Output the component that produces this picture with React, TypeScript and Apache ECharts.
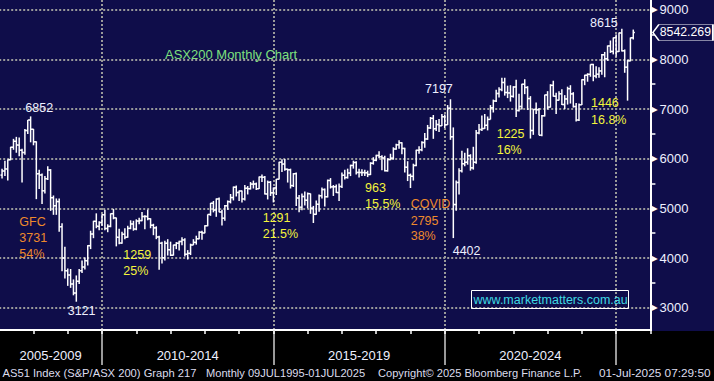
import React, { useEffect, useRef } from "react";
import * as echarts from "echarts";

// Monthly bars, Jan 2007 .. Jun 2025 (ASX200)
const opens = [
  5670, 5755, 5794, 5977, 6231, 6351, 6274, 6171, 6123, 6567, 6779, 6593,
  6340, 5697, 5673, 5355, 5598, 5773, 5215, 5052, 5136, 4631, 4000, 3745,
  3659, 3478, 3296, 3532, 3745, 3818, 3947, 4249, 4484, 4740, 4638, 4715,
  4870, 4596, 4638, 4893, 4808, 4417, 4301, 4480, 4420, 4598, 4686, 4584,
  4745, 4754, 4839, 4838, 4791, 4661, 4608, 4425, 4296, 4008, 4298, 4167,
  4057, 4262, 4299, 4335, 4365, 4077, 4095, 4263, 4316, 4387, 4519, 4506,
  4649, 4878, 5104, 4967, 5191, 4926, 4803, 5052, 5135, 5218, 5426, 5320,
  5352, 5190, 5405, 5395, 5489, 5492, 5396, 5633, 5625, 5292, 5526, 5313,
  5411, 5588, 5929, 5891, 5790, 5777, 5459, 5699, 5207, 5021, 5239, 5166,
  5296, 5005, 4880, 5082, 5252, 5378, 5233, 5562, 5433, 5436, 5318, 5440,
  5666, 5621, 5712, 5864, 5924, 5724, 5721, 5720, 5715, 5682, 5909, 5969,
  6065, 6038, 6016, 5759, 5983, 6011, 6195, 6280, 6320, 6208, 5830, 5667,
  5646, 5865, 6169, 6181, 6325, 6397, 6619, 6813, 6604, 6688, 6663, 6846,
  6684, 7017, 6441, 5077, 5522, 5756, 5898, 5928, 6061, 5816, 5928, 6518,
  6587, 6607, 6673, 6791, 7025, 7162, 7313, 7393, 7535, 7333, 7324, 7256,
  7445, 6971, 7049, 7500, 7435, 7211, 6568, 6993, 6987, 6474, 6863, 7284,
  7039, 7477, 7258, 7178, 7309, 7091, 7203, 7410, 7305, 7049, 6781, 7087,
  7591, 7681, 7699, 7897, 7664, 7702, 7768, 8092, 8011, 8270, 8160, 8436,
  8159, 8532, 8172, 7843, 7970, 8434,
];
const highs = [
  5800, 5960, 5985, 6240, 6400, 6440, 6425, 6200, 6600, 6780, 6852, 6600,
  6350, 5780, 5700, 5650, 5850, 5790, 5260, 5200, 5200, 4700, 4230, 3790,
  3780, 3570, 3650, 3780, 3950, 4010, 4260, 4550, 4750, 4900, 4740, 4880,
  4970, 4680, 4900, 4990, 4815, 4590, 4530, 4600, 4650, 4760, 4750, 4780,
  4810, 4925, 4860, 4975, 4800, 4690, 4640, 4450, 4330, 4350, 4380, 4330,
  4270, 4320, 4350, 4420, 4400, 4160, 4290, 4380, 4450, 4540, 4550, 4660,
  4880, 5110, 5150, 5200, 5220, 4970, 5070, 5160, 5290, 5440, 5460, 5360,
  5360, 5470, 5450, 5530, 5560, 5520, 5640, 5680, 5650, 5560, 5550, 5420,
  5590, 5940, 5990, 5996, 5800, 5800, 5710, 5720, 5270, 5300, 5340, 5320,
  5300, 5050, 5160, 5280, 5420, 5400, 5580, 5610, 5470, 5480, 5500, 5720,
  5780, 5800, 5880, 5960, 5950, 5800, 5790, 5780, 5760, 5930, 6030, 6080,
  6150, 6070, 6060, 6010, 6100, 6230, 6300, 6374, 6330, 6220, 5950, 5700,
  5900, 6180, 6250, 6350, 6520, 6680, 6840, 6880, 6780, 6800, 6900, 6890,
  7080, 7197, 6630, 5560, 5810, 6160, 6120, 6210, 6090, 6240, 6580, 6700,
  6870, 6900, 6850, 7080, 7190, 7390, 7440, 7632, 7630, 7470, 7480, 7460,
  7590, 7310, 7510, 7600, 7460, 7260, 7000, 7130, 7020, 6880, 7290, 7360,
  7500, 7570, 7330, 7360, 7400, 7280, 7450, 7480, 7340, 7120, 7110, 7600,
  7690, 7720, 7900, 7910, 7860, 7840, 8110, 8150, 8280, 8380, 8440, 8500,
  8540, 8615, 8200, 7990, 8440, 8600,
];
const lows = [
  5600, 5650, 5560, 5970, 6180, 6120, 6050, 5520, 6080, 6500, 6330, 6270,
  5186, 5390, 5087, 5300, 5570, 4950, 4870, 4870, 4530, 3736, 3590, 3440,
  3400, 3250, 3121, 3480, 3700, 3770, 3850, 4180, 4400, 4600, 4560, 4650,
  4560, 4520, 4620, 4780, 4235, 4280, 4290, 4380, 4410, 4580, 4550, 4560,
  4680, 4740, 4580, 4760, 4600, 4460, 4380, 3765, 3890, 3950, 4050, 4040,
  4050, 4180, 4150, 4260, 4030, 3970, 4060, 4260, 4270, 4380, 4370, 4500,
  4640, 4850, 4920, 4830, 4920, 4657, 4750, 4970, 5100, 5160, 5240, 5150,
  5120, 5160, 5280, 5380, 5400, 5370, 5390, 5530, 5280, 5180, 5250, 5120,
  5270, 5580, 5730, 5760, 5520, 5400, 5430, 5050, 4920, 4960, 5060, 5000,
  4890, 4706, 4870, 4930, 5200, 5040, 5220, 5400, 5250, 5310, 5150, 5410,
  5580, 5600, 5650, 5800, 5680, 5620, 5650, 5650, 5630, 5670, 5880, 5950,
  6010, 5770, 5740, 5740, 5970, 5980, 6180, 6200, 6090, 5720, 5550, 5410,
  5560, 5850, 6100, 6150, 6220, 6380, 6600, 6400, 6560, 6540, 6660, 6620,
  6680, 6380, 4402, 4950, 5280, 5720, 5850, 5880, 5760, 5780, 5900, 6490,
  6560, 6600, 6570, 6790, 6930, 7140, 7230, 7360, 7270, 7220, 7150, 7230,
  6840, 6950, 6990, 7300, 6980, 6406, 6480, 6900, 6470, 6450, 6850, 6990,
  7030, 7250, 6900, 7170, 7080, 7000, 7090, 7110, 7030, 6751, 6760, 7080,
  7480, 7550, 7650, 7560, 7620, 7630, 7690, 7640, 7970, 8130, 8100, 8060,
  8150, 8160, 7730, 7169, 7960, 8400,
];
const closes = [
  5755, 5794, 5977, 6231, 6351, 6274, 6171, 6123, 6567, 6779, 6593, 6340,
  5697, 5673, 5355, 5598, 5773, 5215, 5052, 5136, 4631, 4000, 3745, 3659,
  3478, 3296, 3532, 3745, 3818, 3947, 4249, 4484, 4740, 4638, 4715, 4870,
  4596, 4638, 4893, 4808, 4417, 4301, 4480, 4420, 4598, 4686, 4584, 4745,
  4754, 4839, 4838, 4791, 4661, 4608, 4425, 4296, 4008, 4298, 4167, 4057,
  4262, 4299, 4335, 4365, 4077, 4095, 4263, 4316, 4387, 4519, 4506, 4649,
  4878, 5104, 4967, 5191, 4926, 4803, 5052, 5135, 5218, 5426, 5320, 5352,
  5190, 5405, 5395, 5489, 5492, 5396, 5633, 5625, 5292, 5526, 5313, 5411,
  5588, 5929, 5891, 5790, 5777, 5459, 5699, 5207, 5021, 5239, 5166, 5296,
  5005, 4880, 5082, 5252, 5378, 5233, 5562, 5433, 5436, 5318, 5440, 5666,
  5621, 5712, 5864, 5924, 5724, 5721, 5720, 5715, 5682, 5909, 5969, 6065,
  6038, 6016, 5759, 5983, 6011, 6195, 6280, 6320, 6208, 5830, 5667, 5646,
  5865, 6169, 6181, 6325, 6397, 6619, 6813, 6604, 6688, 6663, 6846, 6684,
  7017, 6441, 5077, 5522, 5756, 5898, 5928, 6061, 5816, 5928, 6518, 6587,
  6607, 6673, 6791, 7025, 7162, 7313, 7393, 7535, 7333, 7324, 7256, 7445,
  6971, 7049, 7500, 7435, 7211, 6568, 6993, 6987, 6474, 6863, 7284, 7039,
  7477, 7258, 7178, 7309, 7091, 7203, 7410, 7305, 7049, 6781, 7087, 7591,
  7681, 7699, 7897, 7664, 7702, 7768, 8092, 8011, 8270, 8160, 8436, 8159,
  8532, 8172, 7843, 7970, 8434, 8542,
];

const lastPrice = 8542.269;

// x axis in months since Jan 2007 (bars sit at month end)
const periodTicks = [36, 96, 156, 216];
const periodLabelValues = [18, 66, 126, 186];
const periodLabels = ["2005-2009", "2010-2014", "2015-2019", "2020-2024"];
const yTickLabels = [3000, 4000, 5000, 6000, 7000, 8000, 9000];

const footer = [
  "AS51 Index (S&P/ASX 200) Graph 217",
  "Monthly 09JUL1995-01JUL2025",
  "Copyright\u00A9 2025 Bloomberg Finance L.P.",
  "01-Jul-2025 07:29:50",
];

const FONT = '"Liberation Sans", Arial, sans-serif';
const NAVY = "#0f0d4a";
const WHITE_T = "#eef0ff";
const YELLOW = "#f4f43c";
const ORANGE = "#ee8a2c";

// layout
const X_MIN = 0;
const X_MAX = 228;
const Y_MIN = 2000;
const Y_MAX = 10000;
const K = 0.04967; // px per index point
const Y9000 = 9.7;
const GRID_TOP = Y9000 - (Y_MAX - 9000) * K;
const GRID_H = (Y_MAX - Y_MIN) * K;
const AXIS_Y = 330;
const GRID_LEFT = -0.8;
const GRID_W = 651.2;

export default function App() {
  const ref = useRef<HTMLDivElement>(null);

  useEffect(() => {
    if (!ref.current) return;
    const chart = echarts.init(ref.current, undefined, { renderer: "svg" });
    const data = closes.map((c, i) => [i + 1, opens[i], highs[i], lows[i], c]);
    const xOffset = AXIS_Y - (GRID_TOP + GRID_H);

    const txt = (text: string, x: number, y: number, fill: string, size = 12.5) => ({
      type: "text",
      z: 10,
      style: {
        text,
        x,
        y,
        fill,
        font: `${size}px ${FONT}`,
        align: "left",
        verticalAlign: "middle",
      },
    });

    const annotations = [
      txt("ASX200 Monthly Chart", 165, 54, "#7ee07e", 13),
      txt("6852", 25.3, 108, WHITE_T),
      txt("GFC", 19.3, 222, ORANGE),
      txt("3731", 19.3, 238, ORANGE),
      txt("54%", 19.3, 254, ORANGE),
      txt("3121", 67.7, 311, WHITE_T),
      txt("1259", 123.3, 255, YELLOW),
      txt("25%", 123.3, 271, YELLOW),
      txt("1291", 262.7, 218, YELLOW),
      txt("21.5%", 262.7, 234, YELLOW),
      txt("963", 365, 188, YELLOW),
      txt("15.5%", 365, 204, YELLOW),
      txt("COVID", 410.7, 204, ORANGE),
      txt("2795", 410.7, 220.5, ORANGE),
      txt("38%", 410.7, 236, ORANGE),
      txt("7197", 425, 89, WHITE_T),
      txt("4402", 452.7, 250.5, WHITE_T),
      txt("1225", 496.7, 134, YELLOW),
      txt("16%", 496.7, 149.5, YELLOW),
      txt("8615", 590, 23, WHITE_T),
      txt("1446", 591, 103, YELLOW),
      txt("16.8%", 591, 120, YELLOW),
    ];

    const footerX = [2.5, 206, 378, 599];
    const footerSize = [11.2, 11.1, 11.1, 11.8];

    chart.setOption({
      animation: false,
      backgroundColor: NAVY,
      grid: {
        left: GRID_LEFT,
        top: GRID_TOP,
        width: GRID_W,
        height: GRID_H,
        containLabel: false,
        outerBoundsMode: "none",
      },
      xAxis: [
        {
          type: "value",
          min: X_MIN,
          max: X_MAX,
          position: "bottom",
          offset: xOffset,
          z: 3,
          axisLine: { show: true, onZero: false, lineStyle: { color: "#ffffff", width: 2 } },
          axisTick: {
            show: true,
            customValues: periodTicks,
            length: 35,
            lineStyle: { color: "#9a9a9a", width: 2 },
          },
          axisLabel: {
            show: true,
            customValues: periodLabelValues,
            margin: 19,
            color: WHITE_T,
            fontSize: 13,
            fontFamily: FONT,
            formatter: (v: number) => {
              const i = periodLabelValues.indexOf(Math.round(v));
              return i >= 0 ? periodLabels[i] : "";
            },
          },
          splitLine: { show: true, lineStyle: { color: "#9a9a9a", width: 2, type: [2, 2] } },
        },
        {
          type: "value",
          min: X_MIN,
          max: X_MAX,
          interval: 12,
          position: "bottom",
          offset: xOffset,
          z: 3,
          axisLine: { show: false, onZero: false },
          axisTick: { show: true, length: 4, lineStyle: { color: "#ffffff", width: 1.5 } },
          axisLabel: { show: false },
          splitLine: { show: false },
        },
      ],
      yAxis: {
        type: "value",
        position: "right",
        min: Y_MIN,
        max: Y_MAX,
        interval: 1000,
        z: 0,
        axisLine: { show: true, onZero: false, lineStyle: { color: "#ffffff", width: 2 } },
        axisTick: { show: false },
        minorTick: { show: true, splitNumber: 2, length: 5, lineStyle: { color: "#ffffff", width: 1.5 } },
        minorSplitLine: { show: false },
        splitLine: { show: true, lineStyle: { color: "#9a9a9a", width: 2, type: [2, 2] } },
        axisLabel: {
          margin: 1,
          formatter: (v: number) => (yTickLabels.indexOf(v) >= 0 ? `{t|\u25B6}{v|${v}}` : ""),
          rich: {
            t: { fontSize: 8, color: "#ffffff", verticalAlign: "middle", padding: [0, 2, 0, 0], fontFamily: "DejaVu Sans" },
            v: { fontSize: 13, color: WHITE_T, verticalAlign: "middle", fontFamily: FONT },
          },
        },
      },
      series: [
        {
          type: "custom",
          xAxisIndex: 0,
          yAxisIndex: 0,
          z: 4,
          clip: false,
          encode: { x: 0, y: [1, 2, 3, 4] },
          data,
          renderItem: (params: any, api: any) => {
            const x = api.value(0);
            const pO = api.coord([x, api.value(1)]);
            const pH = api.coord([x, api.value(2)]);
            const pL = api.coord([x, api.value(3)]);
            const pC = api.coord([x, api.value(4)]);
            const cx = pH[0];
            const st = { stroke: "#ffffff", lineWidth: 1.5 };
            return {
              type: "group",
              children: [
                { type: "line", shape: { x1: cx, y1: pH[1], x2: cx, y2: pL[1] }, style: st },
                { type: "line", shape: { x1: cx - 1.6, y1: pO[1], x2: cx, y2: pO[1] }, style: st },
                { type: "line", shape: { x1: cx, y1: pC[1], x2: cx + 1.6, y2: pC[1] }, style: st },
              ],
            };
          },
          markPoint: {
            symbol: "path://M0,8L6,0L60,0L60,16L6,16Z",
            symbolSize: [60, 16],
            symbolOffset: [32.5, 0],
            itemStyle: { color: NAVY, borderColor: "#ffffff", borderWidth: 1 },
            label: {
              show: true,
              position: "inside",
              offset: [2.5, 0],
              color: "#ffffff",
              fontSize: 12.3,
              fontFamily: FONT,
              formatter: () => lastPrice.toFixed(3),
            },
            data: [{ coord: [X_MAX, lastPrice] }],
          },
        },
      ],
      graphic: {
        elements: [
          {
            type: "rect",
            z: 1,
            shape: { x: 0, y: AXIS_Y + 1, width: 714, height: 381 - AXIS_Y },
            style: { fill: "#000000" },
          },
          ...annotations,
          {
            type: "rect",
            z: 10,
            shape: { x: 471.5, y: 290.5, width: 157, height: 18 },
            style: { fill: "none", stroke: "#ffffff", lineWidth: 1 },
          },
          txt("www.marketmatters.com.au", 473.5, 299.5, "#3fd9e3", 12.5),
          ...footer.map((f, i) => txt(f, footerX[i], 373, "#dcdcec", footerSize[i])),
        ],
      },
    });

    return () => chart.dispose();
  }, []);

  return (
    <div
      ref={ref}
      style={{ position: "fixed", left: 0, top: 0, width: 714, height: 381 }}
    />
  );
}
